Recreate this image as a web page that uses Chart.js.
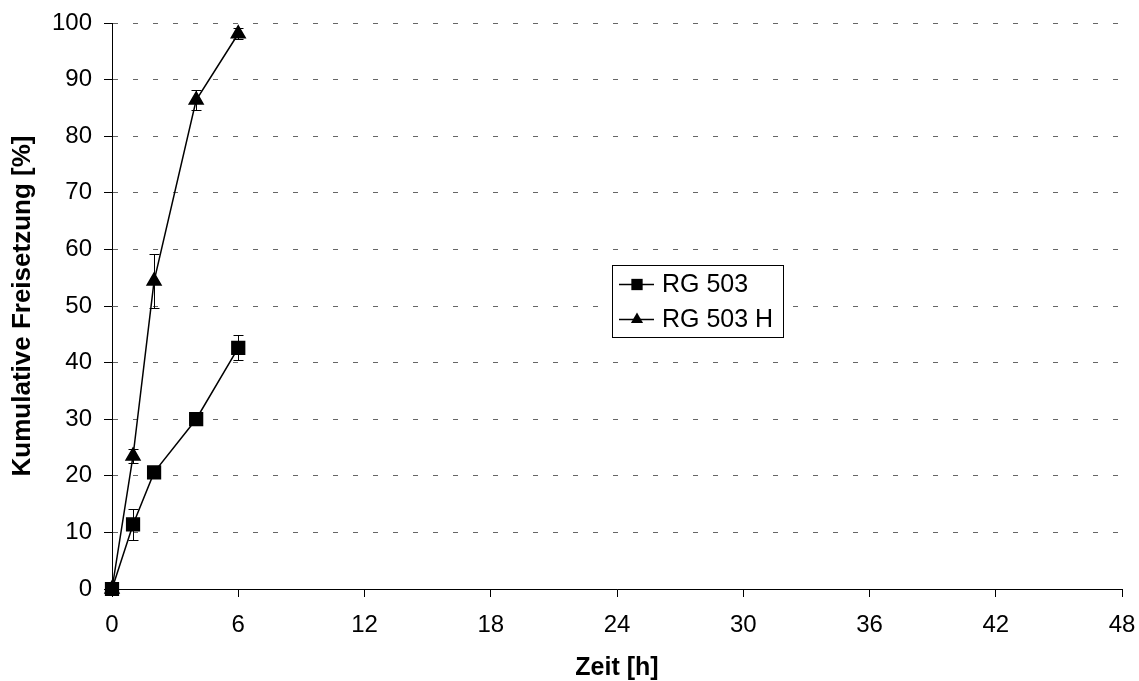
<!DOCTYPE html>
<html lang="de">
<head>
<meta charset="UTF-8">
<title>Kumulative Freisetzung</title>
<script src="https://cdn.jsdelivr.net/npm/chart.js@4"></script>
<style>
  body { margin: 0; background: #fff; }
  canvas { display: block; }
</style>
</head>
<body>
<canvas id="releaseChart" width="1139" height="681"></canvas>
<script>
// Messzeitpunkte [h] und kumulative Freisetzung [%] (Mittelwert, Standardabweichung)
const zeitH = [0, 1, 2, 4, 6];
const rg503 = [0, 11.4, 20.6, 30.0, 42.6];
const rg503Sd = [0, 2.7, 0.6, 0.6, 2.2];
const rg503H = [0, 23.5, 54.4, 86.4, 98.1];
const rg503HSd = [0, 1.2, 4.8, 1.8, 1.0];
const seriesNames = ['RG 503', 'RG 503 H'];
const xTicks = [0, 6, 12, 18, 24, 30, 36, 42, 48];
const yTicks = [0, 10, 20, 30, 40, 50, 60, 70, 80, 90, 100];

const FONT = '"Liberation Sans", Arial, sans-serif';

function points(values) {
    return zeitH.map((t, i) => ({ x: t, y: values[i] }));
}

// vertical error bars with caps, drawn through the chart scales
const errorBars = {
    id: 'errorBars',
    beforeDatasetsDraw(chart) {
        const { ctx, scales: { x, y } } = chart;
        ctx.save();
        ctx.strokeStyle = '#000';
        ctx.lineWidth = 1;
        chart.data.datasets.forEach(ds => {
            ds.data.forEach((p, i) => {
                const e = ds.errors[i];
                if (!e) return;
                const px = Math.round(x.getPixelForValue(p.x)) + 0.5;
                const top = Math.round(y.getPixelForValue(p.y + e)) + 0.5;
                const bot = Math.round(y.getPixelForValue(p.y - e)) + 0.5;
                ctx.beginPath();
                ctx.moveTo(px, top); ctx.lineTo(px, bot);
                ctx.moveTo(px - 5, top); ctx.lineTo(px + 5, top);
                ctx.moveTo(px - 5, bot); ctx.lineTo(px + 5, bot);
                ctx.stroke();
            });
        });
        ctx.restore();
    }
};

function drawMarker(ctx, style, cx, cy, r) {
    ctx.beginPath();
    if (style === 'rect') {
        const s = r * Math.SQRT1_2;
        ctx.rect(cx - s, cy - s, 2 * s, 2 * s);
    } else {
        ctx.moveTo(cx, cy - r);
        ctx.lineTo(cx + r * 0.866, cy + r * 0.5);
        ctx.lineTo(cx - r * 0.866, cy + r * 0.5);
        ctx.closePath();
    }
    ctx.fill();
}

// boxed legend sitting inside the plot area
const boxLegend = {
    id: 'boxLegend',
    afterDraw(chart, args, o) {
        const ctx = chart.ctx;
        ctx.save();
        ctx.fillStyle = '#fff';
        ctx.fillRect(o.left, o.top, o.width, o.height);
        ctx.strokeStyle = '#000';
        ctx.lineWidth = 1;
        ctx.strokeRect(o.left + 0.5, o.top + 0.5, o.width, o.height);
        ctx.font = '25px ' + FONT;
        ctx.textBaseline = 'middle';
        chart.data.datasets.forEach((ds, i) => {
            const cy = Math.round(o.top + o.firstRow + i * o.rowGap) + 0.5;
            ctx.strokeStyle = '#000';
            ctx.lineWidth = 1.5;
            ctx.beginPath();
            ctx.moveTo(o.left + 7, cy);
            ctx.lineTo(o.left + 42, cy);
            ctx.stroke();
            ctx.fillStyle = '#000';
            drawMarker(ctx, ds.pointStyle, o.left + 25, cy, ds.pointStyle === 'rect' ? 8 : 7);
            ctx.fillText(ds.label, o.left + 50, cy + 1);
        });
        ctx.restore();
    }
};

new Chart(document.getElementById('releaseChart'), {
    type: 'line',
    data: {
        datasets: [
            {
                label: seriesNames[0],
                data: points(rg503),
                errors: rg503Sd,
                pointStyle: 'rect',
                pointRadius: 9,
                borderColor: '#000',
                backgroundColor: '#000',
                borderWidth: 1.5,
                tension: 0,
                clip: false
            },
            {
                label: seriesNames[1],
                data: points(rg503H),
                errors: rg503HSd,
                pointStyle: 'triangle',
                pointRadius: 8,
                borderColor: '#000',
                backgroundColor: '#000',
                borderWidth: 1.5,
                tension: 0,
                clip: false
            }
        ]
    },
    options: {
        responsive: false,
        animation: false,
        layout: { padding: { top: 23, right: 17, left: 0, bottom: 0 } },
        plugins: {
            legend: { display: false },
            tooltip: { enabled: false },
            boxLegend: { left: 612, top: 265, width: 171, height: 72, firstRow: 19, rowGap: 35 }
        },
        scales: {
            x: {
                type: 'linear',
                min: 0,
                max: 48,
                afterBuildTicks: s => { s.ticks = xTicks.map(v => ({ value: v })); },
                afterFit: s => { s.height = 92; s.paddingLeft = 0; s.paddingRight = 0; },
                ticks: { color: '#000', font: { family: FONT, size: 24 }, padding: 14 },
                grid: { drawOnChartArea: false, drawTicks: true, tickLength: 8, tickColor: '#000' },
                border: { color: '#000', width: 1 },
                title: {
                    display: true,
                    text: 'Zeit [h]',
                    color: '#000',
                    font: { family: FONT, size: 25, weight: 'bold', lineHeight: 1 },
                    padding: { top: 0, bottom: 0 }
                }
            },
            y: {
                min: 0,
                max: 100,
                afterBuildTicks: s => { s.ticks = yTicks.map(v => ({ value: v })); },
                afterFit: s => { s.width = 112; s.paddingTop = 0; s.paddingBottom = 0; },
                ticks: { color: '#000', font: { family: FONT, size: 24 }, padding: 12 },
                grid: { color: '#666', lineWidth: 1, tickLength: 8, tickColor: '#000', tickBorderDash: [] },
                border: { color: '#000', width: 1, dash: [5, 15] },
                title: {
                    display: true,
                    text: 'Kumulative Freisetzung [%]',
                    color: '#000',
                    font: { family: FONT, size: 26, weight: 'bold' },
                    padding: { top: 7, bottom: 0 }
                }
            }
        }
    },
    plugins: [errorBars, boxLegend]
});
</script>
</body>
</html>
